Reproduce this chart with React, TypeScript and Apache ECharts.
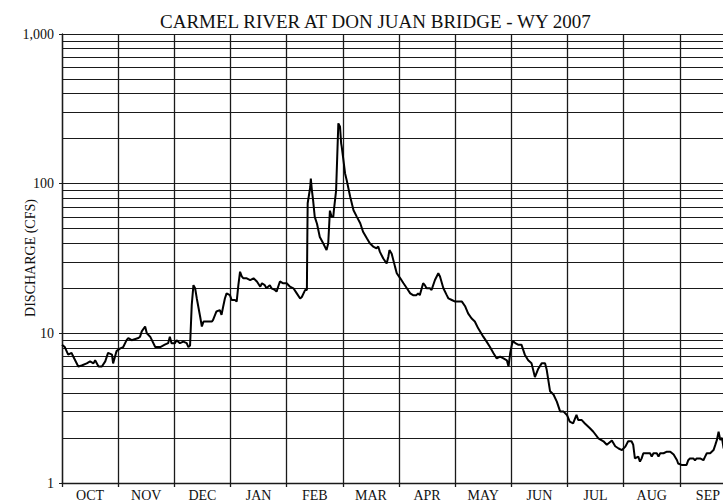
import React, { useEffect, useRef } from "react";
import * as echarts from "echarts";

const TITLE = "CARMEL RIVER AT DON JUAN BRIDGE - WY 2007";
const Y_NAME = "DISCHARGE (CFS)";
const months = ["OCT", "NOV", "DEC", "JAN", "FEB", "MAR", "APR", "MAY", "JUN", "JUL", "AUG", "SEP"];
const yMajorTicks = [1, 10, 100, 1000];
const yMinorLines = [2, 3, 4, 5, 6, 7, 8, 9, 20, 30, 40, 50, 60, 70, 80, 90, 200, 300, 400, 500, 600, 700, 800, 900];

// position along the water year in months (0 = Oct 1, 12 = Sep 30)
const monthPos = [
  0.0, 0.05, 0.11, 0.17, 0.2, 0.29, 0.35, 0.44, 0.5, 0.56, 0.59, 0.65, 0.71, 0.77, 0.82, 0.89, 0.91, 0.97,
  1.03, 1.09, 1.15, 1.18, 1.24, 1.36, 1.39, 1.42, 1.48, 1.51, 1.57, 1.66, 1.75, 1.83, 1.89, 1.92, 1.95,
  2.01, 2.04, 2.1, 2.16, 2.22, 2.25, 2.28, 2.31, 2.34, 2.37, 2.4, 2.46, 2.49, 2.52, 2.67, 2.69, 2.75, 2.81, 2.84, 2.87, 2.9, 2.93,
  2.99, 3.02, 3.08, 3.11, 3.14, 3.17, 3.2, 3.23, 3.29, 3.35, 3.41, 3.47, 3.53, 3.56, 3.61, 3.64, 3.7, 3.73, 3.79, 3.82, 3.88, 3.94,
  4.0, 4.06, 4.12, 4.18, 4.24, 4.27, 4.33, 4.36, 4.367, 4.374, 4.42, 4.43, 4.45, 4.47, 4.5, 4.54, 4.59, 4.65, 4.71, 4.74, 4.77, 4.8, 4.83, 4.84, 4.88, 4.9, 4.92, 4.95, 4.97, 4.98,
  5.01, 5.04, 5.07, 5.13, 5.19, 5.25, 5.31, 5.36, 5.43, 5.48, 5.54, 5.6, 5.63, 5.66, 5.72, 5.78, 5.81, 5.83, 5.87, 5.93, 5.96,
  6.02, 6.08, 6.14, 6.2, 6.25, 6.31, 6.34, 6.37, 6.43, 6.46, 6.49, 6.55, 6.58, 6.64, 6.7, 6.73, 6.79, 6.85, 6.88, 6.94,
  7.0, 7.12, 7.18, 7.23, 7.29, 7.35, 7.41, 7.5, 7.56, 7.62, 7.68, 7.74, 7.8, 7.86, 7.92, 7.95, 7.98,
  8.01, 8.03, 8.07, 8.12, 8.18, 8.24, 8.3, 8.36, 8.42, 8.48, 8.54, 8.6, 8.63, 8.69, 8.75, 8.81, 8.87, 8.93, 8.99,
  9.04, 9.1, 9.16, 9.19, 9.25, 9.31, 9.4, 9.46, 9.55, 9.64, 9.7, 9.79, 9.85, 9.91, 9.97,
  10.03, 10.08, 10.14, 10.17, 10.2, 10.26, 10.29, 10.32, 10.35, 10.47, 10.5, 10.53, 10.59, 10.62, 10.65, 10.71, 10.77, 10.83, 10.89, 10.95, 10.97,
  11.03, 11.12, 11.15, 11.18, 11.24, 11.27, 11.3, 11.36, 11.42, 11.45, 11.48, 11.54, 11.6, 11.63, 11.66, 11.69, 11.72, 11.75, 11.78
];

const dischargeCfs = [
  8.4, 8.1, 7.2, 7.4, 7.0, 6.0, 6.1, 6.3, 6.5, 6.3, 6.6, 6.0, 6.0, 6.5, 7.4, 7.2, 6.3, 7.6,
  7.9, 8.1, 9.0, 9.3, 9.0, 9.3, 9.5, 10.3, 11.1, 10.0, 9.5, 8.1, 8.1, 8.4, 8.6, 9.5, 8.6,
  8.6, 9.0, 8.6, 8.8, 8.6, 8.1, 8.3, 15.5, 21, 20, 17.1, 12.9, 11.1, 12.0, 12.0, 12.3, 14.0, 14.3, 13.3, 15.1, 17.1, 18.5,
  18.0, 16.7, 16.7, 16.3, 21, 25.8, 24, 23.3, 23.3, 22.7, 23.3, 22.2, 20.5, 21.6, 21, 20, 21, 20, 19.5, 19, 22.2, 21.6,
  21.6, 20.5, 20, 18.5, 17.1, 17.5, 19.5, 19.5, 40, 74, 95, 108, 90, 78, 60, 54, 44, 40, 36, 40, 66, 60, 60, 66, 90, 151, 253, 240, 186, 177,
  144, 117, 105, 82, 66.5, 60, 54.4, 47.7, 43, 40, 38, 37, 38, 35, 31.6, 29.3, 32.5, 36, 34, 27.8, 25.2,
  23.4, 21.6, 20, 18.5, 18, 18, 18.5, 18, 21.6, 21, 20, 20, 19.5, 22.7, 25.2, 24, 20, 18, 17.1, 16.7,
  16.3, 16.3, 15.1, 13.6, 12.6, 12.0, 10.8, 9.5, 8.8, 8.1, 7.4, 6.8, 7.0, 6.8, 6.6, 6.0, 7.4,
  8.4, 8.9, 8.6, 8.4, 8.4, 7.2, 6.6, 6.3, 5.1, 5.8, 6.3, 6.3, 5.7, 4.1, 3.9, 3.5, 3.0, 3.0, 2.85,
  2.57, 2.5, 2.85, 2.64, 2.64, 2.5, 2.32, 2.2, 1.99, 1.9, 1.8, 1.92, 1.76, 1.7, 1.66,
  1.75, 1.9, 1.9, 1.8, 1.46, 1.5, 1.39, 1.46, 1.58, 1.58, 1.5, 1.58, 1.58, 1.5, 1.58, 1.58, 1.62, 1.62, 1.55, 1.42, 1.35,
  1.32, 1.32, 1.42, 1.46, 1.46, 1.42, 1.46, 1.46, 1.42, 1.5, 1.58, 1.58, 1.66, 1.79, 1.94, 2.2, 1.94, 2.0, 1.7
];

const SERIF = "'Liberation Serif', 'Times New Roman', serif";

export default function App() {
  const ref = useRef<HTMLDivElement>(null);

  useEffect(() => {
    if (!ref.current) return;
    const chart = echarts.init(ref.current, undefined, { renderer: "svg" });
    const gridColor = "#1a1a1a";
    chart.setOption({
      animation: false,
      backgroundColor: "#ffffff",
      title: {
        text: TITLE,
        left: 155,
        top: 7,
        textStyle: { fontFamily: SERIF, fontSize: 19, fontWeight: "normal", color: "#111" },
      },
      graphic: [
        {
          type: "text",
          x: 30,
          y: 258,
          rotation: Math.PI / 2,
          style: {
            text: Y_NAME,
            fontFamily: SERIF,
            fontSize: 14,
            fill: "#111",
            align: "center",
            verticalAlign: "middle",
          },
        },
      ],
      grid: { left: 62, top: 34, width: 674, height: 449, containLabel: false, outerBoundsMode: "none" },
      xAxis: [
        {
          type: "category",
          data: months,
          boundaryGap: true,
          axisLine: { show: true, lineStyle: { color: gridColor, width: 1.3 } },
          axisTick: { show: true, length: 4, interval: 0, lineStyle: { color: gridColor, width: 1.3 } },
          axisLabel: { interval: 0, fontFamily: SERIF, fontSize: 14, color: "#111", margin: 5 },
          splitLine: { show: true, interval: 0, lineStyle: { color: gridColor, width: 1.3 } },
        },
        { type: "value", min: 0, max: 12, show: false },
      ],
      yAxis: {
        type: "log",
        logBase: 10,
        min: 1,
        max: 1000,
        axisLine: { show: true, lineStyle: { color: gridColor, width: 1.3 } },
        axisTick: { show: true, length: 3, lineStyle: { color: gridColor } },
        axisLabel: {
          fontFamily: SERIF,
          fontSize: 14,
          color: "#111",
          margin: 8,
          formatter: (v: number) => (yMajorTicks.includes(v) ? (v === 1000 ? "1,000" : String(v)) : ""),
        },
        splitLine: { show: true, lineStyle: { color: gridColor, width: 1.2 } },
      },
      series: [
        {
          type: "line",
          xAxisIndex: 1,
          data: [[0, 1]],
          symbol: "none",
          lineStyle: { opacity: 0 },
          silent: true,
          z: 1,
          markLine: {
            silent: true,
            symbol: "none",
            label: { show: false },
            lineStyle: { color: gridColor, width: 1.2, type: "solid" },
            data: yMinorLines.map((v) => ({ yAxis: v })),
          },
        },
        {
          type: "line",
          xAxisIndex: 1,
          data: monthPos.map((t, i) => [t, dischargeCfs[i]]),
          showSymbol: false,
          symbol: "none",
          z: 5,
          lineStyle: { color: "#000", width: 2 },
        },
      ],
    });
    return () => chart.dispose();
  }, []);

  return (
    <div
      ref={ref}
      style={{ position: "absolute", left: 0, top: 0, width: 723, height: 503, background: "#fff" }}
    />
  );
}
